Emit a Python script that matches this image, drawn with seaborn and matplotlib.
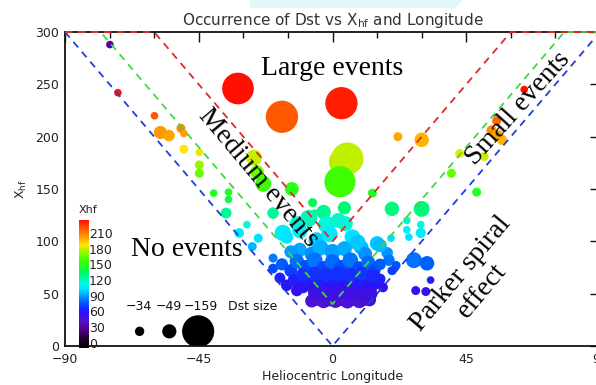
import numpy as np
import pandas as pd
import matplotlib
matplotlib.use("Agg")
import matplotlib.pyplot as plt
import seaborn as sns
from matplotlib.colors import LinearSegmentedColormap, Normalize
from matplotlib.patches import Polygon

# ---------------------------------------------------------------------------
# Storm events: heliocentric longitude (deg), X_hf and minimum Dst (nT)
# ---------------------------------------------------------------------------
lon = [
    # large events
    -31.8, -17.0, 3.0, 3.5, 5.0, 2.5,
    # western wing
    -74.9, -72.2, -59.9, -57.9, -55.0, -51.0, -50.0, -50.0, -44.8, -44.8,
    -44.8, -40.0, -35.0, -35.0, -35.8, -28.8, -31.4, -25.0, -27.0, -20.0,
    -20.0, -17.7,
    # medium events
    -26.4, -25.4, -23.3, -13.7, -6.7, -6.0, -20.0,
    # eastern wing
    64.5, 55.2, 53.5, 55.5, 57.0, 51.0, 22.0, 30.0, 42.8, 40.0,
    48.5, 13.4, 20.0, 30.0, 25.0, 29.7, 25.0, 25.7, 29.7, 19.7,
    15.0, 9.7, 18.4, 19.0, 21.4, 20.0, 27.4, 31.8, 33.0, 28.0, 31.4,
    # core, teal / cyan
    4.0, -3.0, -8.0, -12.0, -2.0, 2.0, 4.3, -16.7, -15.4, -11.0,
    -5.4, -1.0, 6.7, 8.4, 16.0, -11.0, -7.0, -4.0, 0.0, 4.0, 11.0, -14.0,
    # core, blue
    -17.0, -14.0, -12.0, -9.0, -6.0, -3.0, 0.0, 3.0, 6.0, 9.0,
    12.0, 14.0, 16.0, -15.4, -12.0, -13.0, -10.0, -8.0, -6.0, -4.0,
    -2.0, 0.0, 2.0, 4.0, 6.0, 8.0, 10.0, 12.0, 14.0, 16.0,
    17.0, -10.0, -6.0, -2.0, 2.0, 6.0, 10.0, 13.5,
    # core, violet
    -7.0, -5.0, -3.0, -1.0, 1.0, 3.0, 5.0, 7.0, 9.0, 11.0,
    12.5, -6.0, -2.0, 2.0, 6.0, 10.0, 13.0,
]

xhf = [
    246, 219, 232, 176, 179, 157,
    288, 242, 220, 204, 201, 208, 203, 188, 185, 173,
    165, 146, 147, 140, 127, 116, 108, 103, 95, 84,
    74, 65,
    180, 166, 155, 150, 137, 127, 127,
    245, 215, 206, 201, 197, 181, 200, 197, 184, 165,
    147, 146, 131, 131, 120, 116, 111, 104, 108, 103,
    98, 94, 89, 82, 77, 72, 82, 79, 63, 53, 52,
    132, 128, 122, 117, 116, 120, 117, 108, 104, 110,
    101, 107, 104, 99, 96, 92, 88, 94, 90, 93, 88, 90,
    78, 72, 81, 75, 82, 74, 80, 75, 82, 74,
    80, 72, 78, 58, 53, 63, 57, 62, 54, 59,
    64, 56, 61, 54, 63, 57, 61, 55, 59, 64,
    56, 68, 69, 68, 69, 68, 69, 67,
    43, 45, 43, 45, 43, 45, 43, 45, 43, 45,
    44, 50, 50, 50, 50, 50, 50,
]

dst = [
    -155, -160, -160, -125, -168, -150,
    -30, -30, -30, -45, -40, -33, -30, -33, -30, -33,
    -33, -30, -30, -30, -38, -30, -35, -33, -33, -33,
    -35, -38,
    -56, -48, -56, -48, -33, -30, -40,
    -30, -33, -36, -40, -36, -33, -33, -50, -33, -33,
    -33, -33, -50, -56, -30, -30, -30, -30, -36, -30,
    -50, -50, -40, -40, -33, -33, -56, -50, -30, -33, -33,
    -45, -50, -60, -50, -62, -52, -52, -58, -45, -52,
    -56, -58, -55, -56, -46, -48, -50, -55, -55, -52, -48, -45,
    -42, -45, -50, -52, -55, -52, -55, -52, -55, -50,
    -48, -44, -40, -40, -40, -42, -48, -50, -48, -52,
    -50, -52, -50, -48, -52, -50, -48, -45, -42, -38,
    -35, -45, -48, -50, -52, -50, -48, -44,
    -45, -48, -50, -52, -48, -50, -52, -48, -50, -48,
    -44, -45, -47, -47, -45, -45, -44,
]

# Dst size key
key_dst = [-34, -49, -159]

# Event boundaries in (longitude, X_hf)
bound_lon = {
    "no": [-90, 0, 90],
    "medium": [-90, -78, 0, 78, 90],
    "large": [-90, -60, 0, 60, 90],
}
bound_xhf = {
    "no": [300, 0, 300],
    "medium": [300, 300, 40, 300, 300],
    "large": [300, 300, 100, 300, 300],
}

cbar_ticks = [0, 30, 60, 90, 120, 150, 180, 210]

# ---------------------------------------------------------------------------
# Colour table: black -> violet -> blue -> cyan -> green -> yellow -> red
# ---------------------------------------------------------------------------
vmin, vmax = -10, 235
stops = [
    (-10, "#000000"), (5, "#180020"), (25, "#50008a"), (42, "#5010d0"),
    (55, "#3010f0"), (65, "#1e20ff"), (75, "#0050ff"), (85, "#0080ff"),
    (95, "#00b8ff"), (105, "#00e8ff"), (115, "#00f8e0"), (125, "#00f8a8"),
    (135, "#00f860"), (147, "#20ff20"), (158, "#40ff00"), (168, "#70ff00"),
    (178, "#b8f000"), (188, "#ffe800"), (200, "#ffa800"), (212, "#ff7800"),
    (224, "#ff4800"), (235, "#ff1000"),
]
cmap = LinearSegmentedColormap.from_list(
    "rainbow_idl", [((v - vmin) / (vmax - vmin), c) for v, c in stops])
norm = Normalize(vmin=vmin, vmax=vmax)

df = pd.DataFrame({"lon": lon, "xhf": xhf, "dst": dst})
# colour index is stored as a byte, so values past 255 wrap around
df["colour"] = np.mod(df["xhf"], 256)
df["dst_size"] = df["dst"].abs()

SIZES = (30, 540)
SIZE_NORM = (30, 160)

sns.set_style("white")
plt.rcParams["font.family"] = ["DejaVu Sans"]

fig = plt.figure(figsize=(5.96, 3.85), dpi=100)
fig.patches.append(Polygon([[250 / 596, 1.0], [463 / 596, 1.0],
                            [455 / 596, 1 - 8 / 385], [250 / 596, 1 - 8 / 385]],
                           closed=True, transform=fig.transFigure,
                           facecolor="#e2f7f7", edgecolor="none", zorder=0))

ax = fig.add_axes([65 / 596, 39 / 385, 535 / 596, 314 / 385])
ax.set_facecolor("none")

sns.scatterplot(data=df, x="lon", y="xhf", hue="colour", palette=cmap,
                hue_norm=norm, size="dst_size", sizes=SIZES,
                size_norm=SIZE_NORM, linewidth=0, legend=False, ax=ax,
                zorder=2)

# Event boundaries
line_style = dict(linestyle=(0, (4.0, 3.2)), linewidth=1.3, zorder=3,
                  clip_on=False)
ax.plot(bound_lon["no"], bound_xhf["no"], color="#1f3fd6", **line_style)
ax.plot(bound_lon["medium"], bound_xhf["medium"], color="#3fd83f", **line_style)
ax.plot(bound_lon["large"], bound_xhf["large"], color="#e02828", **line_style)

# Dst size key
key_lon = [-64.9, -54.9, -45.2]
key_df = pd.DataFrame({"lon": key_lon, "xhf": [14] * 3,
                       "dst_size": np.abs(key_dst)})
sns.scatterplot(data=key_df, x="lon", y="xhf", size="dst_size", sizes=SIZES,
                size_norm=SIZE_NORM, color="black", linewidth=0,
                legend=False, ax=ax, zorder=2)
for x, d in zip([-65.2, -55.2, -44.2], key_dst):
    ax.text(x, 38, f"\u2212{abs(d)}", ha="center", va="center", fontsize=9,
            color="#111111")
ax.text(-35.3, 38, "Dst size", ha="left", va="center", fontsize=9,
        color="#111111")

# Region labels
serif = dict(family="Liberation Serif", fontsize=20, color="black", zorder=5)
ax.text(0, 265, "Large events", ha="center", va="center", **serif)
ax.text(-49, 92, "No events", ha="center", va="center", **serif)
ax.text(-25.0, 161, "Medium events", ha="center", va="center",
        rotation=-50, rotation_mode="anchor", **serif)
ax.text(62.5, 227, "Small events", ha="center", va="center",
        rotation=48, rotation_mode="anchor", **serif)
ax.text(46.8, 61, "Parker spiral\neffect", ha="center", va="center",
        multialignment="center", linespacing=1.1,
        rotation=50, rotation_mode="anchor", **serif)

# Axes
ax.set_xlim(-90, 90)
ax.set_ylim(0, 300)
ax.set_xticks([-90, -45, 0, 45, 90])
ax.set_xticks([-75, -60, -30, -15, 15, 30, 60, 75], minor=True)
ax.set_yticks([0, 50, 100, 150, 200, 250, 300])
ax.set_yticks(np.arange(10, 300, 10), minor=True)
ax.set_yticklabels(["0", "50", "100", "150", "200", "250", "300"])
ax.set_xticklabels(["\u221290", "\u221245", "0", "45", "90"])
ax.tick_params(which="both", direction="in", top=True, right=True,
               width=1.0, colors="#111111", labelsize=9, labelcolor="#222222")
ax.tick_params(which="major", length=7)
ax.tick_params(which="minor", length=4)
ax.tick_params(axis="y", which="minor", right=False)
ax.tick_params(axis="x", pad=5)
ax.tick_params(axis="y", pad=4)
for s in ax.spines.values():
    s.set_linewidth(1.3)
    s.set_color("#111111")

ax.set_xlabel("Heliocentric Longitude", fontsize=9, color="#222222",
              labelpad=3)
ax.set_ylabel("X$_{\\rm hf}$", fontsize=9, color="#222222", labelpad=5)
ax.set_title("Occurrence of Dst vs X$_{\\rm hf}$ and Longitude", fontsize=11,
             color="#333333", pad=5)

# Colour bar
cax = fig.add_axes([79 / 596, 37 / 385, 10 / 596, 128 / 385])
sm = plt.cm.ScalarMappable(norm=norm, cmap=cmap)
cb = fig.colorbar(sm, cax=cax, ticks=cbar_ticks)
cb.outline.set_visible(False)
cax.tick_params(length=0, pad=0, labelsize=9, labelcolor="#222222")
cax.text(0.0, 1.04, "Xhf", transform=cax.transAxes, ha="left", va="bottom",
         fontsize=8, color="#222222")

fig.savefig("out.png", dpi=100)
